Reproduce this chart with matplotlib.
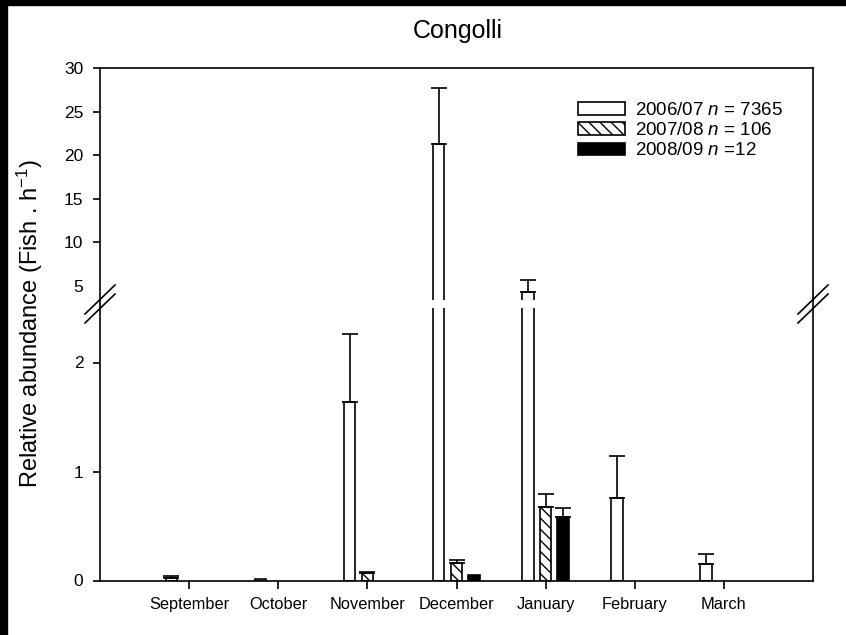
import numpy as np
import matplotlib
matplotlib.use('Agg')
import matplotlib.pyplot as plt
from matplotlib.lines import Line2D
from matplotlib.patches import Rectangle

plt.rcParams['font.family'] = ['Liberation Sans', 'DejaVu Sans']
plt.rcParams['mathtext.fontset'] = 'custom'
plt.rcParams['mathtext.rm'] = 'Liberation Sans'
plt.rcParams['mathtext.it'] = 'Liberation Sans:italic'
plt.rcParams['hatch.linewidth'] = 1.0

months = ['September', 'October', 'November', 'December', 'January', 'February', 'March']
labels = ['2006/07 $n$ = 7365', '2007/08 $n$ = 106', '2008/09 $n$ =12']

# relative abundance (fish per hour) and upper error per season
y0607 = [0.02, 0.01, 1.64, 21.3, 4.29, 0.76, 0.155]
e0607 = [0.02, 0.0, 0.62, 6.4, 1.46, 0.38, 0.085]
y0708 = [0, 0, 0.065, 0.16, 0.675, 0, 0]
e0708 = [0, 0, 0.015, 0.03, 0.12, 0, 0]
y0809 = [0, 0, 0, 0.053, 0.578, 0, 0]
e0809 = [0, 0, 0, 0, 0.086, 0, 0]

W, H = 846, 635
fig = plt.figure(figsize=(W / 100, H / 100), dpi=100)


def fx(px):
    return px / W


def fy(py):
    return 1 - py / H


left, right = 100, 813
ax_hi = fig.add_axes([fx(left), fy(300), fx(right) - fx(left), fy(68) - fy(300)])
ax_lo = fig.add_axes([fx(left), fy(580.5), fx(right) - fx(left), fy(308) - fy(580.5)])

x = np.arange(len(months))
series = [(y0607, e0607, 'white', ''),
          (y0708, e0708, 'white', '\\\\\\'),
          (y0809, e0809, 'black', '')]
offsets = [-0.2, 0.0, 0.195]
lw = 1.2

for ax in (ax_hi, ax_lo):
    for (vals, errs, fc, hatch), off, lab in zip(series, offsets, labels):
        vals = np.array(vals, dtype=float)
        errs = np.array(errs, dtype=float)
        m = vals > 0
        ax.bar(x[m] + off, vals[m], width=0.13, color=fc, edgecolor='black',
               hatch=hatch, linewidth=lw, label=lab)
        e = m & (errs > 0)
        ax.errorbar(x[e] + off, vals[e], yerr=[np.zeros(e.sum()), errs[e]],
                    fmt='none', ecolor='black', elinewidth=lw, capsize=5.5, capthick=lw)
    ax.set_xlim(-1, 7)
    for s in ax.spines.values():
        s.set_linewidth(lw)
    ax.tick_params(axis='y', direction='out', length=5, width=lw, labelsize=12.5, pad=7)

ax_hi.set_ylim(3.4, 30)
ax_hi.set_yticks([5, 10, 15, 20, 25, 30])
ax_hi.yaxis.get_major_ticks()[0].tick1line.set_visible(False)
ax_hi.spines['bottom'].set_visible(False)
ax_hi.tick_params(axis='x', bottom=False, labelbottom=False)

ax_lo.set_ylim(0, 2.5)
ax_lo.set_yticks([0, 1, 2])
ax_lo.spines['top'].set_visible(False)
ax_lo.set_xticks(x, months)
ax_lo.tick_params(axis='x', direction='out', length=6, width=lw, labelsize=11.8, pad=6)

# keep the frame continuous through the break and add break marks
for sx in (left, right):
    fig.add_artist(Line2D([fx(sx), fx(sx)], [fy(300), fy(308)], color='black', lw=lw))
    for cy in (299.5, 308.5):
        fig.add_artist(Line2D([fx(sx - 15), fx(sx + 15)], [fy(cy + 14.5), fy(cy - 14.5)],
                              color='black', lw=lw))

handles, labs = ax_lo.get_legend_handles_labels()
fig.legend(handles, labs, loc='upper left', bbox_to_anchor=(fx(578), fy(102)),
           frameon=False, borderpad=0, borderaxespad=0, handlelength=2.5,
           handleheight=0.64, handletextpad=0.53, labelspacing=0.17, fontsize=13.5)

fig.text(fx(458), fy(38), 'Congolli', ha='center', va='baseline', fontsize=18)
fig.text(fx(30), fy(324), 'Relative abundance (Fish . h$^{-1}$)', rotation=90,
         ha='center', va='center', fontsize=17)

# dark border on top and left edges
fig.add_artist(Rectangle((0, fy(5)), 1, 1 - fy(5), transform=fig.transFigure,
                         color='black', zorder=10))
fig.add_artist(Rectangle((0, 0), fx(7), 1, transform=fig.transFigure,
                         color='black', zorder=10))

fig.savefig('out.png', dpi=100)
